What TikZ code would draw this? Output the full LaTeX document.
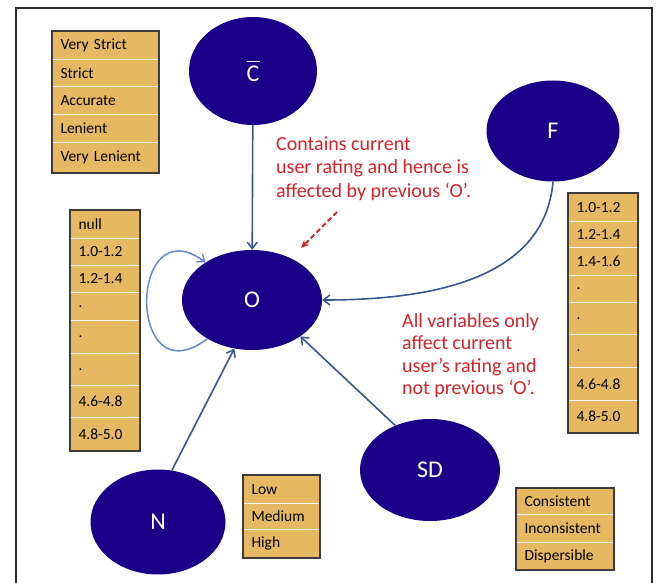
\documentclass[tikz,border=0pt]{standalone}
\usepackage{fontspec}
\setmainfont{Carlito}
\usetikzlibrary{arrows.meta,shapes.geometric}
\definecolor{elfill}{RGB}{26,0,137}
\definecolor{tabfill}{RGB}{231,184,98}
\definecolor{tabline}{RGB}{60,60,60}
\definecolor{arrblue}{RGB}{55,85,145}
\definecolor{loopblue}{RGB}{100,135,205}
\definecolor{notered}{RGB}{212,34,40}
\definecolor{framegray}{RGB}{40,40,40}
\begin{document}
\begin{tikzpicture}[x=1pt,y=-1pt,
  var/.style={ellipse, fill=elfill, inner sep=0pt, text=white, font={\fontsize{24}{28}\selectfont}},
  row/.style={rectangle, fill=tabfill, draw=white, line width=1pt, anchor=north west,
              inner xsep=8pt, inner ysep=0pt, align=left, text=black,
              font={\fontsize{15.5}{18}\selectfont}},
  tabframe/.style={draw=tabline, line width=1.1pt},
  link/.style={draw=arrblue, line width=1.6pt, -{Straight Barb[length=6.5pt,width=10pt,line width=1.5pt]}},
  note/.style={text=notered, align=left, inner sep=0pt, anchor=north west}
]
\useasboundingbox (0,0) rectangle (656,583);
% frame
\draw[framegray, line width=1.6pt] (16,583) -- (16,8) -- (652,8) -- (652,583);

% ellipses
\node[var, minimum width=128, minimum height=108] (C) at (253,71)
  {\vbox{\hrule width 13pt height 1.7pt \kern 3.5pt \hbox{C}}};
\node[var, minimum width=133, minimum height=101] (F) at (553,131) {F};
\node[var, minimum width=140, minimum height=100] (O) at (252,300) {O};
\node[var, minimum width=140, minimum height=102] (SD) at (430,470) {SD};
\node[var, minimum width=135, minimum height=105] (N) at (158,522) {N};

% table top-left
\foreach \t/\b/\s [count=\i] in {31/59/Very Strict,59/86/Strict,86/114/Accurate,114/142/Lenient,142/172/Very Lenient}
  \node[row, minimum width=106, minimum height={\b-\t}, text width={106-16}] (tl\i) at (52,\t) {\s};
\draw[tabframe] (tl1.north west) rectangle (tl5.south east);

% table left
\foreach \t/\b/\s [count=\i] in {210/238/null,238/265/1.0-1.2,265/292/1.2-1.4,292/320/.,320/353/.,353/385/.,385/417/4.6-4.8,417/450/4.8-5.0}
  \node[row, minimum width=69, minimum height={\b-\t}, text width={69-16}] (lt\i) at (70,\t) {\s};
\draw[tabframe] (lt1.north west) rectangle (lt8.south east);

% table right
\foreach \t/\b/\s [count=\i] in {193/221/1.0-1.2,221/247/1.2-1.4,247/275/1.4-1.6,275/302/.,302/334/.,334/367/.,367/400/4.6-4.8,400/432/4.8-5.0}
  \node[row, minimum width=69, minimum height={\b-\t}, text width={69-16}] (rt\i) at (568,\t) {\s};
\draw[tabframe] (rt1.north west) rectangle (rt8.south east);

% table N
\foreach \t/\b/\s [count=\i] in {475/503/Low,503/529/Medium,529/557/High}
  \node[row, minimum width=76, minimum height={\b-\t}, text width={76-16}] (nt\i) at (243,\t) {\s};
\draw[tabframe] (nt1.north west) rectangle (nt3.south east);

% table SD
\foreach \t/\b/\s [count=\i] in {488/514/Consistent,514/542/Inconsistent,542/569/Dispersible}
  \node[row, minimum width=97, minimum height={\b-\t}, text width={97-16}] (st\i) at (516,\t) {\s};
\draw[tabframe] (st1.north west) rectangle (st3.south east);

% connectors
\draw[link] (C) -- (O);
\draw[link] (F.south) to[out=-95,in=0] (O.east);
\draw[link] (SD.128) -- (O.323);
\draw[link] (N.75) -- (O.250);
\draw[draw=loopblue, line width=1.5pt, -{Straight Barb[length=6.5pt,width=10pt,line width=1.4pt]}]
  (O.221) .. controls (126,400) and (128,205) .. (O.141);

% notes
\node[note, font={\fontsize{20}{23.5}\selectfont}] (n1) at (276,136.5) {Contains current\\user rating and hence is\\affected by previous ‘O’.};
\node[note, font={\fontsize{20}{22.5}\selectfont}] (n2) at (402,313) {All variables only\\affect current\\user’s rating and\\not previous ‘O’.};
\coordinate (rs) at (337,212);
\coordinate (re) at (301,248);
\draw[notered, line width=1.8pt, dash pattern=on 5pt off 3pt, -{Stealth[length=8pt,width=7pt]}] (rs) -- (re);
\end{tikzpicture}
\end{document}
